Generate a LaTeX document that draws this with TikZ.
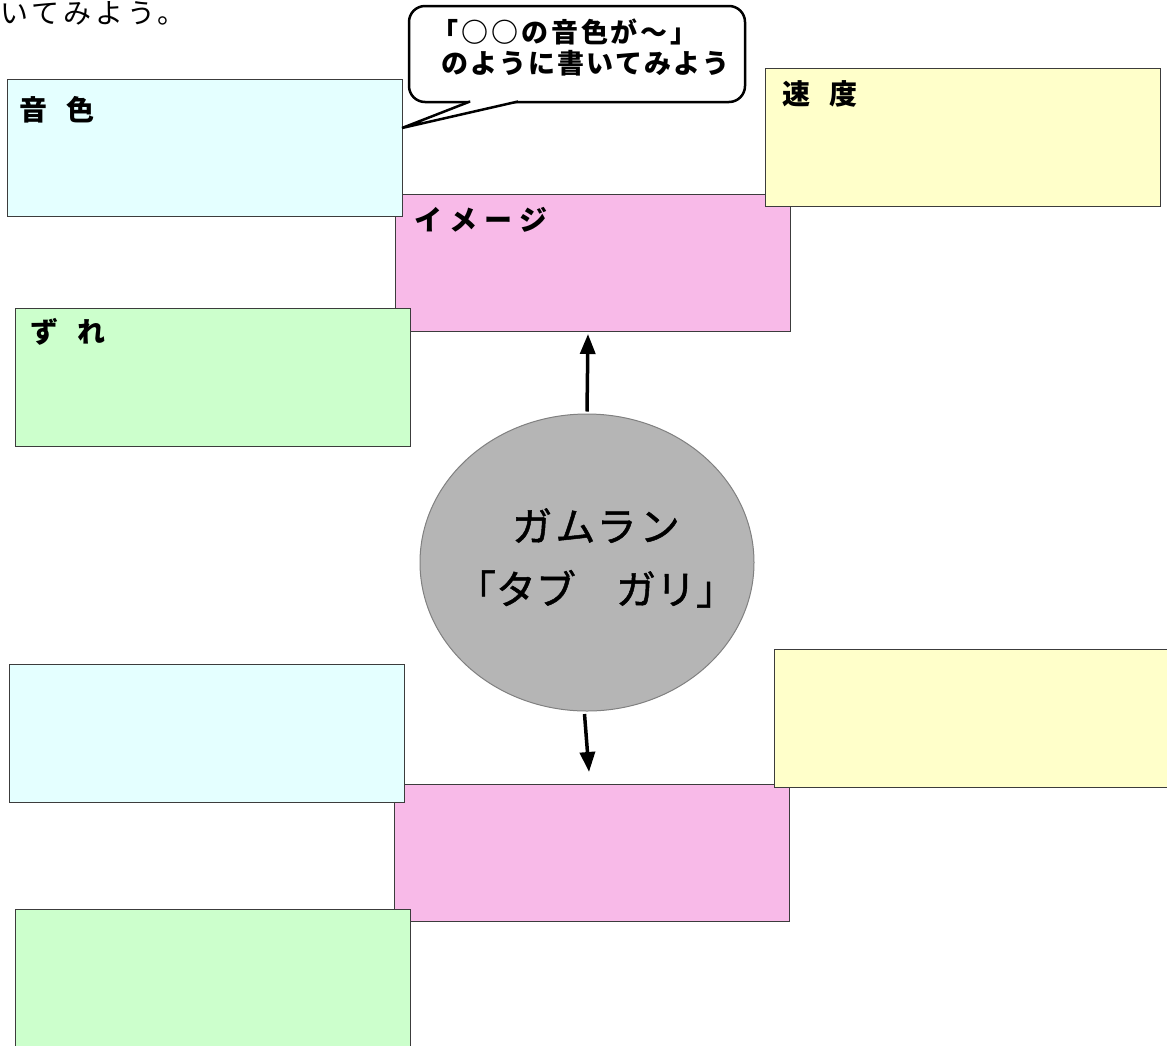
\documentclass[tikz,border=0pt]{standalone}
\usepackage{fontspec}
\setmainfont{Noto Sans CJK JP}
\usetikzlibrary{arrows.meta,shapes.geometric}
\definecolor{cyanfill}{RGB}{228,255,255}
\definecolor{yellowfill}{RGB}{255,255,202}
\definecolor{greenfill}{RGB}{204,255,204}
\definecolor{pinkfill}{RGB}{248,186,232}
\definecolor{boxline}{RGB}{60,60,60}
\definecolor{ellfill}{RGB}{181,181,181}
\definecolor{ellline}{RGB}{128,128,128}
\begin{document}
\begin{tikzpicture}[x=1pt,y=-1pt,
  box/.style={draw=boxline, line width=1pt, anchor=north west, inner sep=0pt, minimum width=395pt, minimum height=137pt},
  lbl/.style={anchor=west, inner sep=0pt, font=\fontsize{28pt}{30pt}\selectfont\bfseries\addfontfeature{LetterSpace=-16}},
  arr/.style={line width=3.5pt, -{Triangle[width=15pt,length=20pt]}},
  bubble/.style={draw=black, line width=2.5pt, fill=white}]
\useasboundingbox (0,0) rectangle (1167,1045);
% top text
\node[anchor=west, inner sep=0pt, font=\fontsize{28pt}{30pt}\selectfont\addfontfeature{LetterSpace=14}] (toptext) at (0,13) {いてみよう。};
% upper group
\node[box, fill=pinkfill] (p1) at (395,194) {};
\node[box, fill=cyanfill] (c1) at (7,79) {};
\node[box, fill=yellowfill, minimum height=138pt] (y1) at (765,68) {};
\node[box, fill=greenfill, minimum height=138pt] (g1) at (15,308) {};
\node[lbl] (c1t) at ([xshift=12pt,yshift=-31pt]c1.north west) {音　色};
\node[lbl] (y1t) at ([xshift=17pt,yshift=-26pt]y1.north west) {速　度};
\node[lbl, font=\fontsize{28pt}{30pt}\selectfont\bfseries\addfontfeature{LetterSpace=26}] (p1t) at ([xshift=19pt,yshift=-26pt]p1.north west) {イメージ};
\node[lbl] (g1t) at ([xshift=15pt,yshift=-24pt]g1.north west) {ず　れ};
% lower group
\node[box, fill=pinkfill] (p2) at (394,784) {};
\node[box, fill=cyanfill, minimum height=138pt] (c2) at (9,664) {};
\node[box, fill=yellowfill, minimum height=138pt] (y2) at (774,649) {};
\node[box, fill=greenfill, minimum height=140pt] (g2) at (15,909) {};
% callout
\draw[bubble, rounded corners=16pt] (409,6) rectangle (745,102);
\fill[white] (472,98) -- (516,98) -- (518,102) -- (402,128) -- (470,102) -- cycle;
\draw[line width=2.5pt] (470,101.5) -- (402,128) -- (518,101.5);
\node[anchor=west, inner sep=0pt, align=left, font=\fontsize{27pt}{31pt}\selectfont\bfseries] (bubt) at (431,47)
  {\addfontfeature{LetterSpace=11}「○○の音色が～」\\\hspace{10pt}\addfontfeature{LetterSpace=8}のように書いてみよう};
% central ellipse
\node[ellipse, draw=ellline, line width=1pt, fill=ellfill, minimum width=334pt, minimum height=297pt, inner sep=0pt] (ell) at (587,562.5) {};
\node[align=center, inner sep=0pt, font=\fontsize{40pt}{63pt}\selectfont\addfontfeature{FakeBold=1.2}] (ellt) at (596,558)
  {\addfontfeature{LetterSpace=8}ガムラン\\\addfontfeature{LetterSpace=0}「タブ　ガリ」};
% arrows
\coordinate (a1e) at (588,334);
\coordinate (a2s) at (584.5,714);
\coordinate (a2e) at (589,772);
\draw[arr] ([yshift=2pt]ell.north) -- (a1e);
\draw[arr] (a2s) -- (a2e);
\end{tikzpicture}
\end{document}
